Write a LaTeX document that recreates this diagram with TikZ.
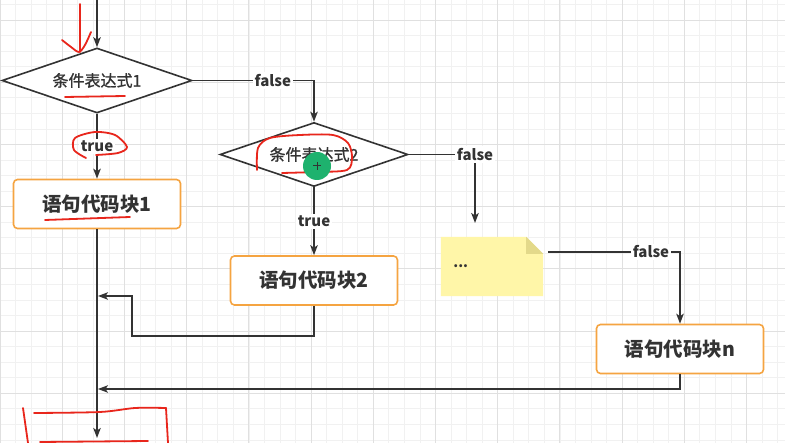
\documentclass[tikz,border=0pt]{standalone}
\usepackage{fontspec}
\setmainfont{Noto Sans CJK SC}
\newfontfamily\semibold[FakeBold=1.2]{Noto Sans CJK SC}
\usetikzlibrary{shapes.geometric, arrows.meta, calc}
\definecolor{ink}{HTML}{333333}
\definecolor{blockedge}{HTML}{F5A441}
\definecolor{notefill}{HTML}{FFF6A8}
\definecolor{notefold}{HTML}{E3D98A}
\definecolor{markred}{HTML}{E8261C}
\definecolor{cursorgreen}{HTML}{1EB26E}
\tikzset{
  flow/.style={
    -{Stealth[length=10pt,width=7.5pt,inset=2.5pt]},
    line width=1.6pt,
    color=ink
  },
  back flow/.style={
    flow,
    line width=1.3pt
  },
  decision/.style={
    diamond,
    aspect=2.9,
    draw=ink,
    line width=1.6pt,
    fill=white,
    inner sep=0pt,
    minimum width=190pt,
    minimum height=65pt,
    text=ink,
    font=\semibold\fontsize{16}{16}\selectfont
  },
  block/.style={
    rectangle,
    rounded corners=4pt,
    draw=blockedge,
    line width=1.6pt,
    fill=white,
    minimum width=167pt,
    minimum height=49pt,
    text=ink,
    font=\bfseries\fontsize{19.5}{19.5}\selectfont
  },
  edge label/.style={
    fill=white,
    inner sep=2pt,
    text=ink,
    font=\bfseries\fontsize{15}{15}\selectfont
  },
  note box/.style={
    rectangle,
    inner sep=0pt,
    minimum width=102pt,
    minimum height=59pt
  },
  red mark/.style={
    draw=markred,
    line width=1.8pt,
    line cap=round,
    line join=round
  },
  minor grid/.style={gray!11, line width=0.6pt},
  major grid/.style={gray!24, line width=0.8pt}
}

\begin{document}
\begin{tikzpicture}[x=1pt, y=-1pt]
    % 画布：1单位 = 1像素，y 轴向下
    \useasboundingbox (0,0) rectangle (785,443);
    \fill[white] (0,0) rectangle (785,443);

    % 背景网格
    \foreach \i in {0,1,...,50} {
      \draw[minor grid] (\i*15.55,0) -- (\i*15.55,443);
    }
    \foreach \j in {-1,0,...,27} {
      \draw[minor grid] (0,20+\j*15.55) -- (785,20+\j*15.55);
    }
    \foreach \i in {0,1,...,12} {
      \draw[major grid] (\i*62.2,0) -- (\i*62.2,443);
    }
    \foreach \j in {0,1,...,6} {
      \draw[major grid] (0,20+\j*62.2) -- (785,20+\j*62.2);
    }

    % 判断与语句块
    \node[decision] (cond1) at (97,80.5) {条件表达式1};
    \node[decision, minimum width=188pt, minimum height=64pt] (cond2) at (314,154.5) {条件表达式2};
    \node[block] (blk1) at (97,204) {语句代码块1};
    \node[block] (blk2) at (314,280.5) {语句代码块2};
    \node[block] (blkn) at (680,349) {语句代码块n};

    % 便签 ...
    \node[note box] (note) at (492,266.5) {};
    \fill[notefill] (note.north west) -- ([xshift=-17pt]note.north east)
      -- ([yshift=-17pt]note.north east) -- (note.south east) -- (note.south west) -- cycle;
    \fill[notefold] ([xshift=-17pt]note.north east) -- ([xshift=-17pt,yshift=-17pt]note.north east)
      -- ([yshift=-17pt]note.north east) -- cycle;
    \node[anchor=west, text=ink, font=\bfseries\fontsize{14}{14}\selectfont] (dots) at ([xshift=9pt]note.west) {...};

    % 连接点
    \coordinate (top) at (97,0);
    \coordinate (drop) at (475,223);
    \coordinate (noteout) at (548,252);
    \coordinate (bend2) at (132,336);
    \coordinate (join1) at (98,296);
    \coordinate (join2) at (98,389);
    \coordinate (bottom) at (97,438);

    % 连线
    \draw[flow] (top) -- (cond1.north);
    \draw[flow] (cond1.south) -- node[edge label] (true1) {true} (blk1.north);
    \draw[flow] (cond1.east) -| node[edge label, pos=0.33] (false1) {false} (cond2.north);
    \draw[flow] (cond2.south) -- node[edge label] (true2) {true} (blk2.north);
    \draw[flow] (cond2.east) -| node[edge label] (false2) {false} (drop);
    \draw[flow] (noteout) -| node[edge label, pos=0.39] (false3) {false} (blkn.north);
    \draw[flow] (blk1.south) -- (bottom);
    \draw[back flow] (blk2.south) |- (bend2) |- (join1);
    \draw[back flow] (blkn.south) |- (join2);

    % 红色手写标注
    \draw[red mark] (80,4) -- (80,52);
    \draw[red mark] plot[smooth] coordinates {(62,40) (71,47) (79,52) (85,45) (91,32)};
    \draw[red mark] (65,97) -- (125,96);
    \draw[red mark] plot[smooth] coordinates {(86,158) (74,150) (75,138) (95,132) (115,135) (127,147) (118,153) (96,155)};
    \draw[red mark] (45,220) -- (130,217);
    \draw[red mark] plot[smooth] coordinates {(257,170) (258,148) (270,138) (300,135) (333,135) (348,143) (352,157) (347,170) (315,172) (282,173)};
    \draw[red mark] (23,408) -- (28,443);
    \draw[red mark] plot[smooth] coordinates {(34,413) (100,412) (135,408) (166,408)};
    \draw[red mark] (166,408) -- (168,443);
    \draw[red mark] (40,442) -- (148,441);

    % 光标
    \fill[cursorgreen] (317,166) circle (14pt);
    \draw[ink, line width=1pt] (313,166) -- (321,166) (317,162) -- (317,170);
\end{tikzpicture}
\end{document}
